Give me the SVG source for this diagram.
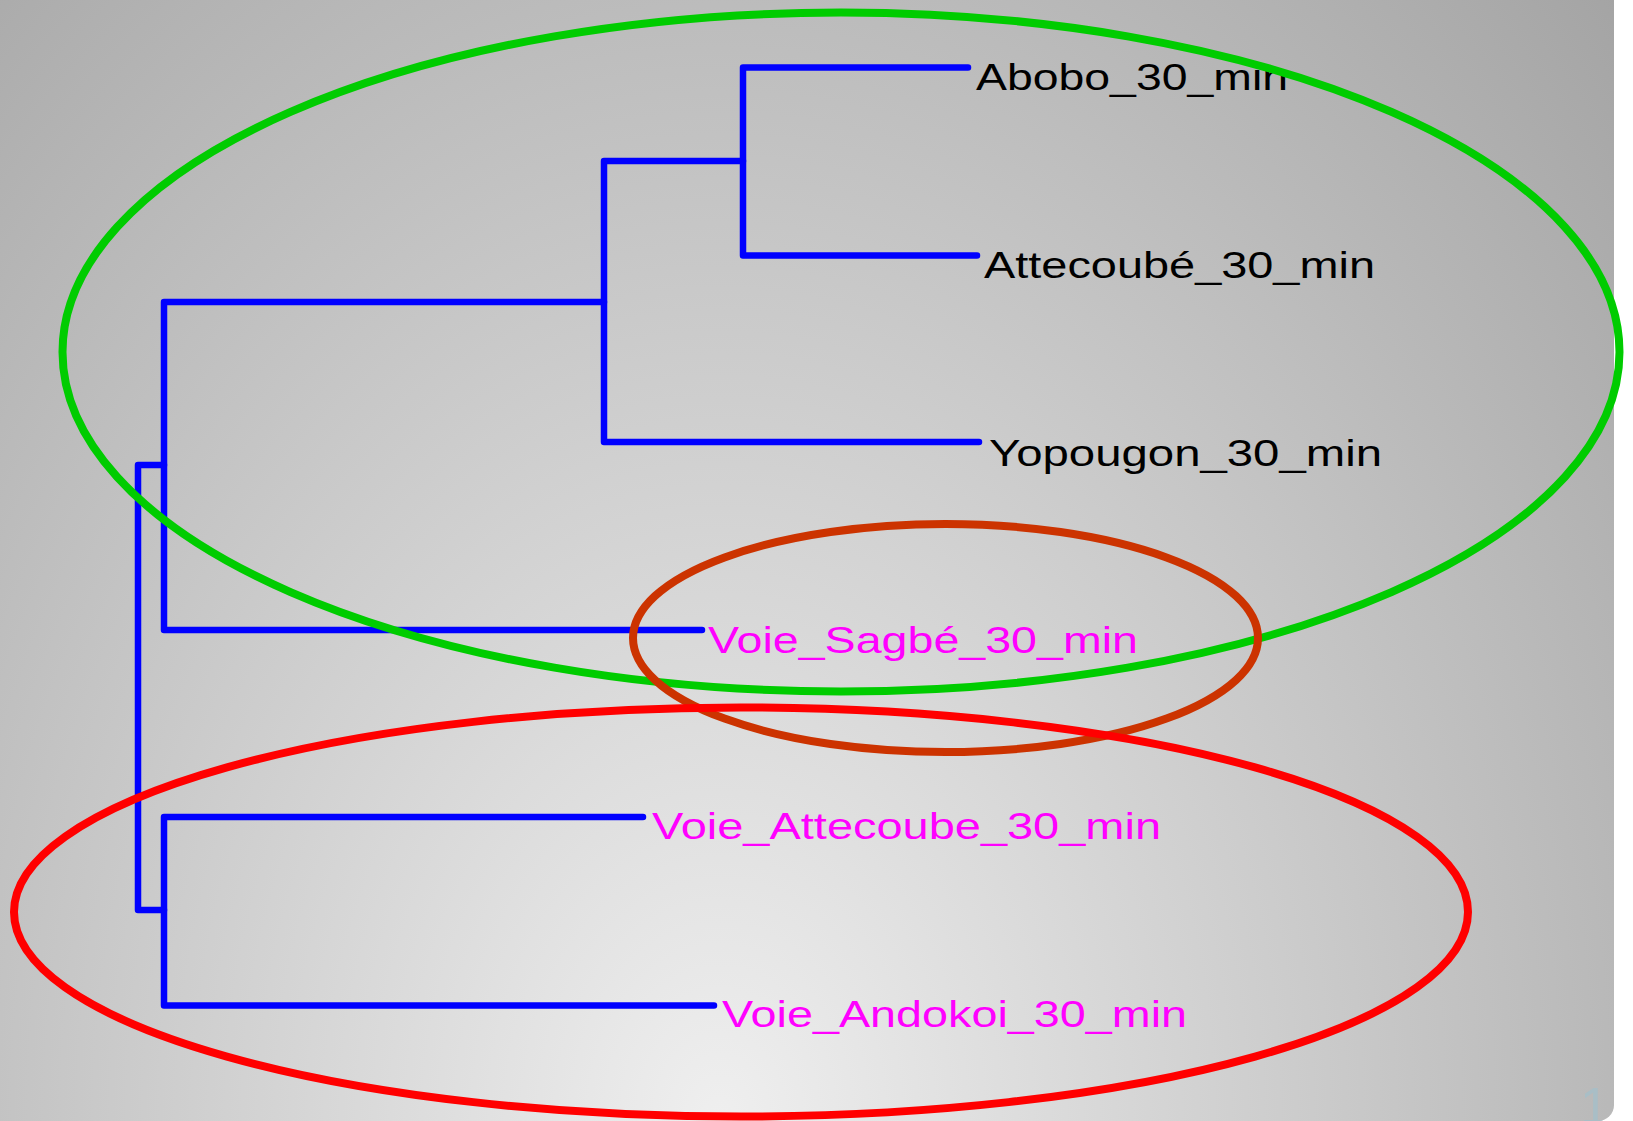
<svg xmlns="http://www.w3.org/2000/svg" width="1633" height="1121" viewBox="0 0 1633 1121">
<defs>
<radialGradient id="bg" gradientUnits="userSpaceOnUse" cx="720" cy="1121" r="1300" gradientTransform="translate(720 1121) scale(1 1.33) translate(-720 -1121)">
<stop offset="0" stop-color="#efefef"/>
<stop offset="1" stop-color="#a0a0a0"/>
</radialGradient>
<clipPath id="bgclip"><rect x="-20" y="-20" width="1634" height="1141" rx="16" ry="16"/></clipPath>
<style>
.br{stroke:#0000ff;stroke-width:6.5;stroke-linecap:round;fill:none}
.lbl{font-family:"Liberation Sans",Arial,sans-serif;font-size:37px}
.blk{fill:#000000}
.mag{fill:#ff00ff}
.ell{fill:none;stroke-width:8}
</style>
</defs>
<rect x="0" y="0" width="1633" height="1121" fill="#ffffff"/>
<rect x="-20" y="-20" width="1634" height="1141" rx="16" ry="16" fill="url(#bg)"/>
<g clip-path="url(#bgclip)">
<text x="1580" y="1124" font-family="'Liberation Sans',Arial,sans-serif" font-size="52" fill="#a9bec6">1</text>
</g>
<g id="connectors">
<path class="br" d="M743 67.5 H968 M743 67.5 V255.5 M743 255.5 H977"/>
<path class="br" d="M604 161 H743 M604 161 V442 M604 442 H979"/>
<path class="br" d="M164 302 H604 M164 302 V630 M164 630 H702"/>
<path class="br" d="M164 817 H643 M164 817 V1005.5 M164 1005.5 H714"/>
<path class="br" d="M138 465 H164 M138 465 V910 M138 910 H164"/>
</g>
<g id="node-abobo"><text class="lbl blk" x="976" y="90" textLength="312" lengthAdjust="spacingAndGlyphs">Abobo_30_min</text></g>
<g id="node-attecoube"><text class="lbl blk" x="984" y="278" textLength="391" lengthAdjust="spacingAndGlyphs">Attecoubé_30_min</text></g>
<g id="node-yopougon"><text class="lbl blk" x="989" y="466" textLength="393" lengthAdjust="spacingAndGlyphs">Yopougon_30_min</text></g>
<g id="node-voie-sagbe"><text class="lbl mag" x="708" y="653" textLength="430" lengthAdjust="spacingAndGlyphs">Voie_Sagbé_30_min</text></g>
<g id="node-voie-attecoube"><text class="lbl mag" x="652" y="839" textLength="509" lengthAdjust="spacingAndGlyphs">Voie_Attecoube_30_min</text></g>
<g id="node-voie-andokoi"><text class="lbl mag" x="722" y="1027" textLength="465" lengthAdjust="spacingAndGlyphs">Voie_Andokoi_30_min</text></g>
<g id="group-green"><ellipse class="ell" cx="841" cy="352" rx="778.5" ry="339.5" stroke="#00cc00"/></g>
<g id="group-brown"><ellipse class="ell" cx="945.5" cy="638" rx="312.5" ry="114" stroke="#cc3300"/></g>
<g id="group-red"><ellipse class="ell" cx="741" cy="912" rx="727" ry="204.5" stroke="#ff0000"/></g>
</svg>
